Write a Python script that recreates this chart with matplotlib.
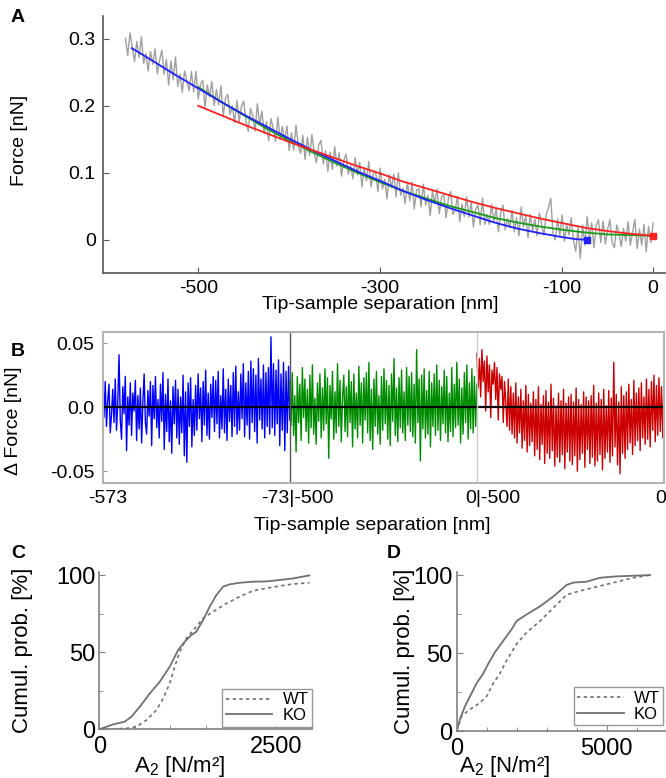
import numpy as np
import matplotlib.pyplot as plt
from matplotlib.ticker import MultipleLocator

plt.rcParams['font.family'] = ['Liberation Sans', 'DejaVu Sans']
plt.rcParams['axes.unicode_minus'] = False

W, H = 666, 778

# ---- panel A: retract curve (grey, in pN) and the three fits ----
trace_x = np.linspace(-580, 0, 233)
trace_pn = [301, 275, 309, 288, 266, 296, 272, 303, 263, 278,
            252, 281, 262, 285, 248, 268, 283, 247, 269, 231,
            267, 239, 273, 229, 247, 220, 252, 238, 222, 251,
            221, 251, 210, 232, 238, 197, 231, 213, 236, 200,
            224, 201, 230, 185, 211, 217, 187, 200, 175, 208,
            176, 199, 207, 177, 162, 196, 185, 162, 203, 172,
            192, 159, 176, 148, 181, 166, 147, 183, 150, 169,
            148, 170, 133, 160, 134, 171, 140, 129, 156, 120,
            153, 126, 157, 130, 115, 142, 148, 113, 133, 102,
            131, 105, 139, 110, 130, 95, 118, 128, 98, 111,
            91, 123, 97, 116, 79, 108, 88, 117, 79, 99,
            102, 72, 107, 76, 90, 61, 97, 78, 98, 64,
            100, 66, 77, 54, 86, 58, 86, 46, 74, 76,
            49, 83, 52, 66, 36, 73, 55, 76, 39, 64,
            67, 33, 61, 72, 38, 44, 65, 27, 53, 35,
            64, 34, 57, 19, 46, 52, 22, 62, 23, 38,
            23, 53, 26, 47, 12, 40, 52, 15, 32, 18,
            44, 12, 33, 6, 49, 19, 36, 3, 38, 13,
            31, 6, 40, 23, 7, 38, 48, 62, 10, 0,
            31, 6, 37, -2, 23, 7, 33, -1, -17, 18,
            -28, 22, -8, 35, 2, 25, -12, 22, 30, -4,
            28, -6, 15, 30, -4, -12, 22, 10, -10, 17,
            -2, 27, -8, 12, 30, -13, 16, -8, 23, -18,
            20, -4, 25]

blue_x = [-573, -550, -525, -500, -475, -450, -425, -400, -375, -350, -325,
          -300, -275, -250, -225, -200, -175, -150, -125, -100, -85, -73]
blue_fit = [0.286, 0.267, 0.246, 0.226, 0.206, 0.187, 0.169, 0.151, 0.134,
            0.118, 0.102, 0.088, 0.073, 0.060, 0.048, 0.037, 0.026, 0.017,
            0.010, 0.004, 0.001, 0.0]

fit_x = [-500, -475, -450, -425, -400, -375, -350, -325, -300, -275, -250,
         -225, -200, -175, -150, -125, -100, -75, -50, -25, 0]
green_fit = [0.228, 0.206, 0.186, 0.166, 0.148, 0.131, 0.115, 0.100, 0.086,
             0.073, 0.062, 0.051, 0.042, 0.033, 0.026, 0.020, 0.015, 0.011,
             0.008, 0.007, 0.006]
red_fit = [0.200, 0.186, 0.172, 0.159, 0.146, 0.134, 0.122, 0.110, 0.099,
           0.087, 0.077, 0.067, 0.057, 0.048, 0.040, 0.032, 0.025, 0.018,
           0.013, 0.009, 0.006]

# ---- panel B: residuals of each fit, in pN ----
res_blue_pn = [12, -8, 20, -15, 5, 18, -20, -6, 14, -12, 22, -18, 3, 41, -10,
               -25, 16, -5, 24, -34, 8, -14, 19, -22, 11, -3, 21, -26, 9, -17,
               15, -28, 4, 26, -12, -21, 13, -7, 20, -30, 17, -9, 24, -16, 6,
               -24, 18, -11, 27, -33, 10, -19, 22, -27, 5, -36, 16, -13, 21, -24,
               14, -29, 8, -20, 25, -38, 12, -43, 19, -15, 23, -31, 6, -22, 17,
               -18, 26, -9, 15, -27, 20, -14, 29, -22, 11, -25, 18, -8, 24, -19,
               21, -13, 28, -24, 9, -17, 30, -20, 14, -26, 22, -11, 17, -23, 27,
               -15, 32, -21, 12, -18, 26, -9, 34, -23, 19, -14, 28, -25, 36, -12,
               30, -19, 25, -28, 38, -10, 22, -17, 33, -24, 27, -15, 31, -21, 55,
               -16, 34, -22, 29, -13, 37, -30, 26, -18, 35, -34, 28, -20, 32, -10]
res_green_pn = [20, -14, 27, -22, 9, -35, 24, -12, 18, -26, 31, -8, 22, -19, 14,
                -28, 25, -16, 33, -21, 7, -29, 19, -11, 26, -24, 15, -18, 30, -13,
                23, -40, 17, -9, 28, -25, 12, -20, 34, -15, 21, -27, 8, 25, -19,
                16, -23, 29, -12, 20, -31, 26, -17, 11, -24, 32, -14, 19, -28, 23,
                -10, 27, -20, 35, -26, 14, -33, 22, -15, 28, -21, 9, -29, 24, -18,
                30, -13, 21, -25, 17, -30, 26, -11, 38, -22, 15, -27, 23, -16, 29,
                -20, 12, -26, 31, -14, 24, -19, 27, -23, 18, -28, 45, -12, 22, -42,
                25, -17, 30, -24, 13, -21, 28, -31, 19, -15, 26, -22, 33, -18, 21,
                -26, 16, -13, 29, -20, 24, -27, 11, -19, 31, -23, 18, -16, 35, -14,
                22, -28, 15, -21, 27, -12, 33, -25, 19, -17, 30, -20, 24, -15, 18]
res_red_pn = [42, 15, 38, 8, 45, 20, 36, -3, 40, 12, 33, -8, 29, 18, 35,
              6, 31, -10, 26, 14, 24, -12, 20, 4, -15, 22, -18, 16, -21, 11,
              -24, 19, -28, 8, -20, 14, -32, 5, -26, 17, -35, 10, -30, 3, -27,
              12, -38, 6, -33, 16, -41, 2, -29, 9, -44, 13, -36, 4, -40, 18,
              -34, 7, -46, 1, -39, 11, -43, 5, -37, 14, -48, 3, -35, 8, -42,
              10, -45, 4, -38, 15, -50, 6, -41, 2, -36, 12, -47, 8, -33, 5,
              -44, 9, -39, 17, -46, 3, -42, 11, -37, 6, -49, 14, -40, 1, -35,
              13, -43, 7, -38, 35, -31, 10, -45, 4, -52, 16, -36, 9, -40, 12,
              -33, 18, -28, 6, -37, 21, -30, 11, -26, 15, -34, 19, -24, 8, -29,
              22, -25, 14, -31, 20, -18, 25, -27, 17, -22, 23, -19, 16, -24, 20]
b_tick_pos = [14, 519, 1043, 1491]
b_tick_labels = ['-573', '-73|-500', '0|-500', '0']

# ---- panels C, D: cumulative distributions of A2 ----
c_ko_x = [0, 197, 361, 455, 573, 714, 855, 995, 1113, 1207, 1300, 1371, 1465,
          1559, 1653, 1746, 1840, 1981, 2169, 2357, 2545, 2732, 2967]
c_ko_y = [0, 3.2, 5, 8.2, 14.7, 23.3, 30.9, 40.6, 51.4, 56.8, 61.1, 63.3, 70.8,
          79.5, 87, 92.4, 94, 95, 95.7, 95.9, 96.8, 97.8, 99.8]
c_wt_x = [0, 385, 526, 667, 808, 902, 995, 1066, 1136, 1230, 1371, 1465, 1606,
          1793, 1981, 2169, 2357, 2545, 2732, 2967]
c_wt_y = [0, 0.6, 1.7, 6, 12.5, 20, 29.8, 40.6, 50.3, 59, 66.5, 72, 76.2,
          81.6, 86, 89.8, 91.4, 92.9, 94.2, 95]

d_ko_x = [0, 111, 278, 500, 667, 889, 1056, 1278, 1556, 1833, 2000, 2333, 2778,
          3222, 3667, 3889, 4333, 4778, 5333, 5889, 6444]
d_ko_y = [0, 7.6, 16, 24.4, 30.7, 37, 43.3, 50.6, 58, 65.3, 70.6, 74.8, 80,
          86.3, 93.7, 95.2, 95.8, 98.3, 99.2, 99.6, 100]
d_wt_x = [0, 167, 444, 778, 1000, 1222, 1444, 1667, 2000, 2333, 2778, 3222,
          3667, 4111, 4556, 5000, 5444, 5889, 6444]
d_wt_y = [0, 9.7, 13.9, 18.1, 22.3, 30.7, 37, 45.4, 55.9, 63.2, 70.6, 79,
          87.4, 89.9, 92, 94.1, 96.2, 98.3, 100]


def px_rect(left, top, right, bottom):
    return [left / W, 1 - bottom / H, (right - left) / W, (bottom - top) / H]


fig = plt.figure(figsize=(W / 100, H / 100), dpi=100)

# panel A
axA = fig.add_axes(px_rect(102.7, 16, 664.9, 273.3))
axA.plot(trace_x, np.array(trace_pn) / 1000, color='#a0a0a0', lw=1.0)
axA.plot(fit_x, green_fit, color='#1a9a1a', lw=1.3)
axA.plot(blue_x, blue_fit, color='#2020ff', lw=1.3)
axA.plot(fit_x, red_fit, color='#ff2020', lw=1.3)
axA.plot(blue_x[-1], blue_fit[-1], 's', color='#2020ff', ms=4)
axA.plot(fit_x[-1], red_fit[-1], 's', color='#ff2020', ms=4)
axA.set_xlim(-605, 13)
axA.set_ylim(-0.05, 0.334)
axA.set_xticks([-500, -300, -100, 0])
axA.set_yticks([0, 0.1, 0.2, 0.3])
axA.set_yticklabels(['0', '0.1', '0.2', '0.3'])
for s in ['top', 'right']:
    axA.spines[s].set_visible(False)
for s in ['left', 'bottom']:
    axA.spines[s].set_color('#555555')
    axA.spines[s].set_linewidth(1.2)
axA.tick_params(direction='in', length=4, color='#555555', labelsize=14, pad=5)
axA.set_xlabel('Tip-sample separation [nm]', fontsize=14)
axA.set_ylabel('Force [nN]', fontsize=14)
axA.xaxis.set_label_coords(0.493, -0.088)
axA.yaxis.set_label_coords(-0.133, 0.518)

# panel B
axB = fig.add_axes(px_rect(102.7, 331.7, 664, 482.7))
n = len(res_blue_pn)
axB.plot(np.linspace(-573, -73, n) + 573, np.array(res_blue_pn) / 1000,
         color='#0000ff', lw=1.0)
axB.plot(np.linspace(-500, 0, n) + 1000, np.array(res_green_pn) / 1000,
         color='#008c00', lw=1.0)
axB.plot(np.linspace(-500, 0, n) + 1500, np.array(res_red_pn) / 1000,
         color='#cc0000', lw=1.0)
axB.axhline(0, color='black', lw=1.6)
axB.axvline(500, color='#555555', lw=1)
axB.axvline(1000, color='#cccccc', lw=1)
axB.set_xlim(0, 1500)
axB.set_ylim(-0.059, 0.059)
axB.set_yticks([-0.05, 0, 0.05])
axB.set_yticklabels(['-0.05', '0.0', '0.05'])
axB.set_xticks(b_tick_pos)
axB.set_xticklabels(b_tick_labels)
for s in axB.spines.values():
    s.set_color('#b4b4b4')
    s.set_linewidth(1.5)
axB.tick_params(axis='y', direction='in', length=3, color='#999999', labelsize=14, pad=6)
axB.tick_params(axis='x', length=0, labelsize=14, pad=5)
axB.set_xlabel('Tip-sample separation [nm]', fontsize=14)
axB.set_ylabel('Δ Force [nN]', fontsize=14)
axB.xaxis.set_label_coords(0.48, -0.225)
axB.yaxis.set_label_coords(-0.144, 0.41)


def cumul_panel(rect, xmax, ko_x, ko_y, wt_x, wt_y, major, minor, legend_anchor,
                xlabel_pos, ylabel_pos):
    ax = fig.add_axes(rect)
    ax.plot(wt_x, wt_y, color='#707070', lw=1.2, ls=(0, (2, 2)), label='WT')
    ax.plot(ko_x, ko_y, color='#707070', lw=1.3, label='KO')
    ax.set_xlim(0, xmax)
    ax.set_ylim(0, 102)
    ax.set_xticks(major)
    ax.xaxis.set_minor_locator(MultipleLocator(minor))
    ax.set_yticks([0, 50, 100])
    ax.yaxis.set_minor_locator(MultipleLocator(25))
    for s in ['top', 'right']:
        ax.spines[s].set_visible(False)
    for s in ['left', 'bottom']:
        ax.spines[s].set_color('#808080')
        ax.spines[s].set_linewidth(1.2)
    ax.tick_params(which='both', direction='in', color='#808080', labelsize=17)
    ax.tick_params(axis='x', pad=5)
    ax.tick_params(axis='y', pad=3)
    ax.tick_params(which='major', length=4)
    ax.tick_params(which='minor', length=3)
    ax.set_xlabel('A$_\\mathregular{2}$ [N/m²]', fontsize=16)
    ax.set_ylabel('Cumul. prob. [%]', fontsize=16)
    ax.xaxis.set_label_coords(*xlabel_pos)
    ax.yaxis.set_label_coords(*ylabel_pos)
    leg = ax.legend(loc='lower right', bbox_to_anchor=legend_anchor, fontsize=12,
                    frameon=True, fancybox=False, borderaxespad=0,
                    handlelength=2.8, handletextpad=0.6, borderpad=0.2,
                    labelspacing=0.05)
    leg.get_frame().set_edgecolor('#808080')
    leg.get_frame().set_linewidth(1.0)
    return ax


cumul_panel(px_rect(99.3, 572, 311.7, 729.3), 3000, c_ko_x, c_ko_y, c_wt_x, c_wt_y,
            [0, 2500], 500, (1.0, 0.017), (0.38, -0.158), (-0.312, 0.504))
cumul_panel(px_rect(456.7, 572, 665.2, 731), 6950, d_ko_x, d_ko_y, d_wt_x, d_wt_y,
            [0, 5000], 1000, (0.99, 0.038), (0.232, -0.146), (-0.2, 0.504))

# panel letters
for letter, (x, y) in zip('ABCD', [(18, 17), (18, 352), (18, 553), (394, 553)]):
    fig.text(x / W, 1 - y / H, letter, fontsize=14, fontweight='bold',
             ha='center', va='center')

fig.savefig('out.png', dpi=100)
